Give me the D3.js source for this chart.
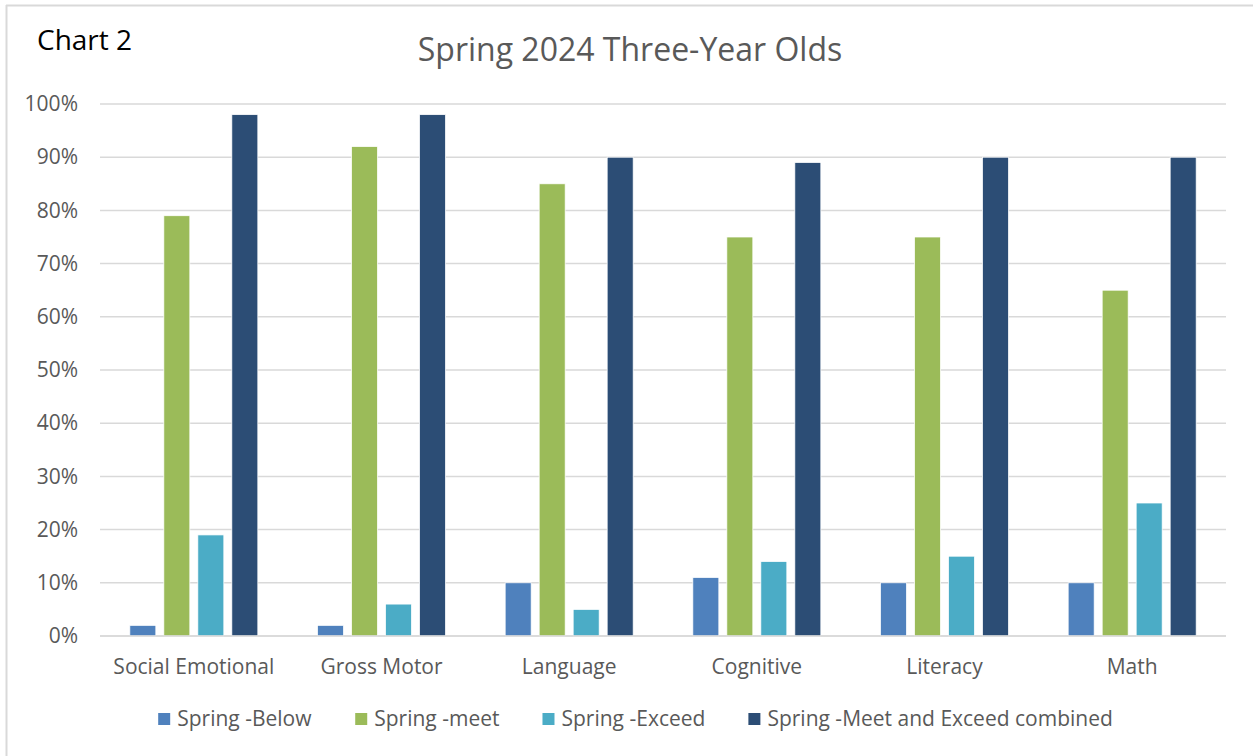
<!DOCTYPE html>
<html>
<head>
<meta charset="utf-8">
<script src="https://cdn.jsdelivr.net/npm/d3@7"></script>
<style>
  html, body { margin: 0; padding: 0; background: #fff; }
  svg { display: block; font-family: "Open Sans", "Noto Sans", sans-serif; }
</style>
</head>
<body>
<svg id="chart" width="1253" height="756"></svg>
<script>
const categories = ["Social Emotional", "Gross Motor", "Language", "Cognitive", "Literacy", "Math"];
const seriesNames = ["Spring -Below", "Spring -meet", "Spring -Exceed", "Spring -Meet and Exceed combined"];
const below    = [2, 2, 10, 11, 10, 10];
const meet     = [79, 92, 85, 75, 75, 65];
const exceed   = [19, 6, 5, 14, 15, 25];
const combined = [98, 98, 90, 89, 90, 90];
const seriesColors = ["#4F81BD", "#9BBB59", "#4BACC6", "#2C4D75"];
const yTicks = [0, 10, 20, 30, 40, 50, 60, 70, 80, 90, 100];
const chartLabel = "Chart 2";
const chartTitle = "Spring 2024 Three-Year Olds";

const seriesValues = [below, meet, exceed, combined];

const W = 1253, H = 756;
const plot = { left: 100, right: 1226, top: 104, bottom: 636 };
const svg = d3.select("#chart");
const labelSize = 21;

// frame (top and left edges visible)
svg.append("line").attr("x1", 6).attr("x2", W).attr("y1", 5.5).attr("y2", 5.5)
  .attr("stroke", "#d9d9d9").attr("stroke-width", 2);
svg.append("line").attr("x1", 6.5).attr("x2", 6.5).attr("y1", 5).attr("y2", H)
  .attr("stroke", "#d9d9d9").attr("stroke-width", 2);

// labels
svg.append("text").attr("x", 37).attr("y", 50).attr("font-size", 28).attr("fill", "#000")
  .text(chartLabel);
svg.append("text").attr("x", 630).attr("y", 61).attr("text-anchor", "middle")
  .attr("font-size", 32).attr("fill", "#595959").text(chartTitle);

const x = d3.scaleBand().domain(categories).range([plot.left, plot.right]).padding(0);
const y = d3.scaleLinear().domain([0, 100]).range([plot.bottom, plot.top]);

const groupWidth = 128;
const xs = d3.scaleBand().domain(seriesNames)
  .range([-groupWidth / 2, groupWidth / 2]).paddingInner(8 / 34).paddingOuter(0);

// gridlines
const grid = svg.append("g");
grid.selectAll("line").data(yTicks).join("line")
  .attr("x1", plot.left).attr("x2", plot.right)
  .attr("y1", d => y(d)).attr("y2", d => y(d))
  .attr("stroke", "#d9d9d9").attr("stroke-width", 1.5);

// y axis labels
const yAxis = d3.axisLeft(y).tickValues(yTicks).tickSize(0).tickPadding(22)
  .tickFormat(d => d + "%");
const yg = svg.append("g").attr("transform", `translate(${plot.left},0)`).call(yAxis);
yg.select(".domain").remove();
yg.selectAll("text").attr("font-size", labelSize).attr("fill", "#595959")
  .attr("font-family", "'Open Sans', sans-serif");

// bars
const bars = svg.append("g");
seriesNames.forEach((name, si) => {
  bars.append("g").selectAll("rect").data(categories).join("rect")
    .attr("x", c => x(c) + x.bandwidth() / 2 + xs(name))
    .attr("width", xs.bandwidth())
    .attr("y", (c, i) => y(seriesValues[si][i]))
    .attr("height", (c, i) => y(0) - y(seriesValues[si][i]))
    .attr("fill", seriesColors[si])
    .attr("stroke", "#fff").attr("stroke-width", 0.75);
});

// x axis
const xAxis = d3.axisBottom(x).tickSize(0).tickPadding(23);
const xg = svg.append("g").attr("transform", `translate(0,${plot.bottom})`).call(xAxis);
xg.select(".domain").remove();
xg.selectAll("text").attr("font-size", labelSize).attr("fill", "#595959")
  .attr("font-family", "'Open Sans', sans-serif");
svg.append("line").attr("x1", plot.left).attr("x2", plot.right)
  .attr("y1", y(0)).attr("y2", y(0)).attr("stroke", "#d9d9d9").attr("stroke-width", 1.5);

// legend
const legend = svg.append("g");
const items = legend.selectAll("g").data(seriesNames).join("g");
items.append("rect").attr("width", 12).attr("height", 12).attr("y", -6)
  .attr("fill", (d, i) => seriesColors[i]);
items.append("text").attr("x", 19).attr("y", 0).attr("dy", "0.35em")
  .attr("font-size", labelSize).attr("fill", "#595959").text(d => d);
const gap = 43;
let widths = [];
items.each(function () { widths.push(this.getBBox().width); });
const total = d3.sum(widths) + gap * (widths.length - 1);
let cx = 635.5 - total / 2;
items.each(function (d, i) {
  d3.select(this).attr("transform", `translate(${cx},719)`);
  cx += widths[i] + gap;
});
</script>
</body>
</html>
